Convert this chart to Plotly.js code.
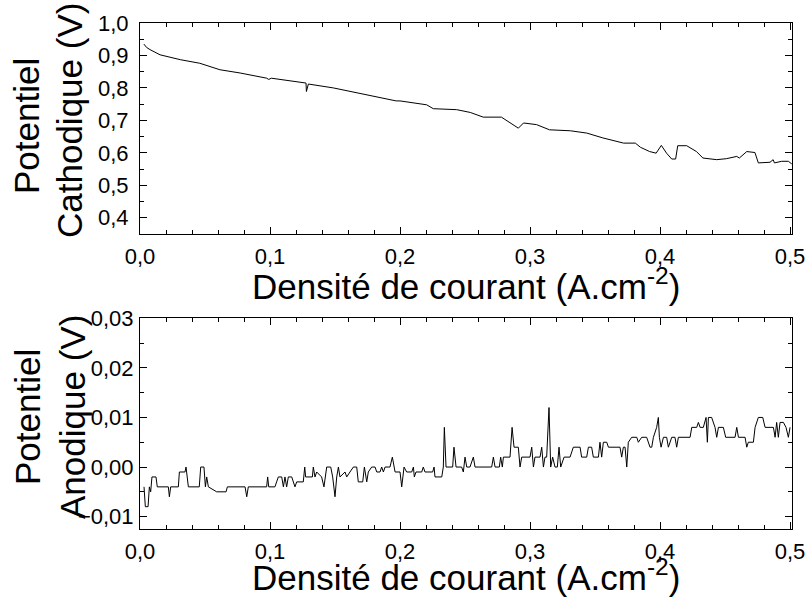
<!DOCTYPE html>
<html>
<head>
<meta charset="utf-8">
<script src="https://cdn.plot.ly/plotly-3.0.1.min.js"></script>
<style>html,body{margin:0;padding:0;background:#fff;}#chart{width:810px;height:598px;}</style>
</head>
<body>
<div id="chart"></div>
<script>
// Cathodic potential (V) vs current density (A.cm-2)
const cathX = [0.003,0.005,0.0077,0.0154,0.031,0.046,0.0615,0.077,0.0975,0.099,0.101,0.1277,0.128,0.1295,0.1487,0.174,0.197,0.2,0.2205,0.2256,0.2436,0.254,0.264,0.278,0.287,0.291,0.295,0.305,0.315,0.331,0.3436,0.356,0.372,0.381,0.385,0.392,0.397,0.401,0.405,0.409,0.412,0.4136,0.4205,0.428,0.433,0.4436,0.451,0.459,0.461,0.4667,0.473,0.4756,0.4846,0.487,0.488,0.4936,0.4987,0.5013];
const cathY = [0.935,0.925,0.918,0.902,0.887,0.876,0.856,0.846,0.830,0.826,0.830,0.815,0.789,0.812,0.800,0.779,0.760,0.760,0.748,0.736,0.733,0.7245,0.710,0.710,0.687,0.676,0.692,0.687,0.671,0.668,0.661,0.646,0.630,0.630,0.617,0.604,0.599,0.623,0.599,0.581,0.581,0.622,0.622,0.604,0.584,0.579,0.582,0.589,0.584,0.604,0.601,0.569,0.571,0.579,0.569,0.574,0.574,0.566];

// Anodic potential (V) vs current density (A.cm-2)
const anodX = [0.0031,0.0036,0.0041,0.0062,0.0072,0.0082,0.0092,0.0123,0.0133,0.0218,0.0226,0.0236,0.0295,0.0303,0.0346,0.0354,0.0372,0.0456,0.0467,0.0492,0.0503,0.0513,0.0526,0.0590,0.0662,0.0672,0.0808,0.0821,0.0833,0.0974,0.0982,0.0990,0.1038,0.1051,0.1064,0.1090,0.1103,0.1115,0.1128,0.1141,0.1167,0.1192,0.1205,0.1256,0.1267,0.1274,0.1326,0.1333,0.1346,0.1359,0.1397,0.1415,0.1436,0.1467,0.1482,0.1500,0.1513,0.1526,0.1538,0.1577,0.1590,0.1615,0.1641,0.1667,0.1679,0.1713,0.1726,0.1744,0.1756,0.1782,0.1808,0.1821,0.1846,0.1859,0.1872,0.1885,0.1923,0.1941,0.1962,0.2000,0.2013,0.2031,0.2051,0.2090,0.2103,0.2110,0.2123,0.2167,0.2179,0.2192,0.2251,0.2262,0.2269,0.2321,0.2333,0.2341,0.2354,0.2405,0.2415,0.2431,0.2474,0.2487,0.2500,0.2513,0.2538,0.2564,0.2577,0.2705,0.2718,0.2731,0.2764,0.2774,0.2787,0.2795,0.2846,0.2862,0.2877,0.2910,0.2923,0.2936,0.3000,0.3013,0.3026,0.3038,0.3077,0.3090,0.3103,0.3115,0.3128,0.3146,0.3159,0.3174,0.3192,0.3210,0.3223,0.3236,0.3262,0.3308,0.3333,0.3385,0.3397,0.3436,0.3449,0.3474,0.3487,0.3526,0.3538,0.3551,0.3564,0.3590,0.3603,0.3692,0.3705,0.3718,0.3731,0.3744,0.3756,0.3782,0.3821,0.3833,0.3859,0.3897,0.3923,0.3936,0.3949,0.3974,0.3987,0.3995,0.4008,0.4026,0.4051,0.4064,0.4090,0.4115,0.4128,0.4141,0.4231,0.4244,0.4282,0.4295,0.4308,0.4333,0.4354,0.4364,0.4372,0.4397,0.4423,0.4436,0.4449,0.4487,0.4505,0.4577,0.4590,0.4603,0.4654,0.4667,0.4679,0.4718,0.4731,0.4756,0.4790,0.4808,0.4872,0.4885,0.4897,0.4910,0.4923,0.4949,0.4969,0.4987,0.5000];
const anodY = [-0.004,-0.006,-0.008,-0.008,-0.004,-0.005,-0.002,-0.002,-0.004,-0.004,-0.006,-0.004,-0.004,-0.001,-0.001,0,-0.004,-0.004,0,0,-0.004,-0.002,-0.004,-0.005,-0.005,-0.004,-0.004,-0.006,-0.004,-0.004,-0.002,-0.004,-0.004,-0.003,-0.002,-0.002,-0.004,-0.002,-0.004,-0.002,-0.002,-0.004,-0.003,-0.003,0,-0.002,-0.002,0,-0.002,-0.001,-0.002,-0.004,0,0,-0.002,-0.006,-0.002,0,-0.002,-0.001,-0.002,-0.001,0,0,-0.003,-0.003,0,-0.003,-0.001,0,0,-0.001,-0.001,0,-0.001,0,0,0.002,-0.001,-0.001,-0.004,0,-0.001,-0.001,0,-0.002,-0.001,-0.001,0,-0.001,-0.001,0,-0.002,-0.002,0,0.008,0,0,0.004,0,0,-0.001,0.002,0,0,0.002,0,0,0.002,0,0,0.002,0,0.002,0.002,0.008,0.004,0.004,0,0.002,0.002,0.004,0,0.002,0.002,0.004,0,0.002,0.002,0.012,0,0.002,0,0,0.004,0,0.002,0.002,0.004,0.004,0.002,0.002,0.004,0.004,0.002,0.002,0.005,0.002,0.005,0.005,0.004,0.004,0.002,0.004,0.004,0,0.005,0.006,0.006,0.005,0.006,0.006,0.004,0.004,0.006,0.008,0.010,0.006,0.004,0.006,0.006,0.004,0.006,0.006,0.004,0.006,0.006,0.008,0.008,0.009,0.008,0.008,0.010,0.005,0.010,0.010,0.008,0.006,0.008,0.008,0.006,0.006,0.008,0.006,0.006,0.004,0.005,0.005,0.008,0.010,0.010,0.008,0.008,0.006,0.009,0.006,0.009,0.009,0.008,0.006,0.008];

const xTitle = 'Densité de courant (A.cm<sup>-2</sup>)';
const yTitleTop = ['Potentiel', 'Cathodique (V)'];
const yTitleBottom = ['Potentiel', 'Anodique (V)'];

const FONT = 'Liberation Sans, Arial, sans-serif';
const W = 810, H = 598, ML = 140, MR = 18, MT = 23, MB = 69;
const PW = W - ML - MR, PH = H - MT - MB;
const px2x = p => (p - ML) / PW;
const px2y = p => 1 - (p - MT) / PH;

const axisCommon = {
  showline: true, linecolor: '#000', linewidth: 1, mirror: 'ticks',
  ticks: 'inside', ticklen: 7, tickwidth: 1, tickcolor: '#000',
  showgrid: false, zeroline: false,
  tickfont: {family: FONT, size: 22, color: '#000'}
};

const traces = [
  {x: cathX, y: cathY, type: 'scatter', mode: 'lines', line: {color: '#000', width: 1}, xaxis: 'x', yaxis: 'y', showlegend: false},
  {x: anodX, y: anodY, type: 'scatter', mode: 'lines', line: {color: '#000', width: 1}, xaxis: 'x2', yaxis: 'y2', showlegend: false}
];

const titleFont = {family: FONT, size: 35, color: '#000'};
function ann(text, xp, yp, angle) {
  return {text: text, xref: 'paper', yref: 'paper', x: px2x(xp), y: px2y(yp),
          xanchor: 'center', yanchor: 'middle', showarrow: false, textangle: angle || 0,
          font: titleFont};
}

const layout = {
  width: W, height: H,
  margin: {l: ML, r: MR, t: MT, b: MB},
  paper_bgcolor: '#fff', plot_bgcolor: '#fff',
  separators: ', ',
  font: {family: FONT, color: '#000'},
  xaxis: Object.assign({}, axisCommon, {
    domain: [0, 1], anchor: 'y', range: [0, 0.5015], dtick: 0.1, tick0: 0, tickformat: '.1f',
    minor: {dtick: 0.02, ticklen: 4, ticks: 'inside', tickcolor: '#000'},
    ticklabelstandoff: 3
  }),
  yaxis: Object.assign({}, axisCommon, {
    domain: [0.583, 1], anchor: 'x', range: [0.35, 1.0], dtick: 0.1, tick0: 0, tickformat: '.1f',
    minor: {dtick: 0.05, ticklen: 4, ticks: 'inside', tickcolor: '#000'},
    ticklabelstandoff: 6
  }),
  xaxis2: Object.assign({}, axisCommon, {
    domain: [0, 1], anchor: 'y2', range: [0, 0.5015], dtick: 0.1, tick0: 0, tickformat: '.1f',
    minor: {dtick: 0.02, ticklen: 4, ticks: 'inside', tickcolor: '#000'},
    ticklabelstandoff: 3
  }),
  yaxis2: Object.assign({}, axisCommon, {
    domain: [0, 0.4164], anchor: 'x2', range: [-0.0125, 0.03], dtick: 0.01, tick0: 0, tickformat: '.2f',
    minor: {dtick: 0.005, ticklen: 4, ticks: 'inside', tickcolor: '#000'},
    ticklabelstandoff: 1
  }),
  annotations: [
    ann(xTitle, 466, 284),
    ann(xTitle, 466, 575),
    ann(yTitleTop[0], 27, 126, -90),
    ann(yTitleTop[1], 69, 121, -90),
    ann(yTitleBottom[0], 27, 417, -90),
    ann(yTitleBottom[1], 72, 417, -90)
  ]
};

Plotly.newPlot('chart', traces, layout, {staticPlot: true, displayModeBar: false});
</script>
</body>
</html>
